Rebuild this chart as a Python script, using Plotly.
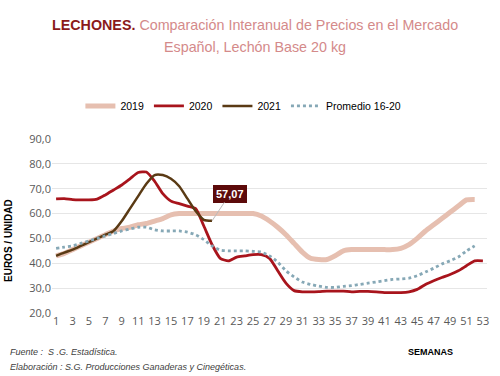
import plotly.graph_objects as go

weeks_2019 = list(range(1, 53))
vals_2019 = [43, 44, 45.5, 47, 48.5, 50, 51.5, 53, 54, 54.5, 55.5, 56, 57, 58, 59.5, 60,
             60, 60, 60, 60, 60, 60, 60, 60, 60, 59, 57, 54.5, 51.5, 48, 44.5, 42,
             41.5, 41.5, 43, 45, 45.5, 45.5, 45.5, 45.5, 45.5, 45.5, 46, 47.5, 50, 53,
             55.5, 58, 60.5, 63, 65.5, 65.7]

weeks_2020 = list(range(1, 54))
vals_2020 = [65.9, 66, 65.6, 65.5, 65.5, 65.8, 67.5, 69.5, 71.5, 74, 76.5, 76.7, 73, 68,
             65, 64, 63, 62, 55, 47.5, 42, 41, 42.5, 43, 43.5, 43.5, 42, 37, 32, 29,
             28.5, 28.5, 28.6, 28.8, 28.8, 28.8, 28.5, 28.7, 28.7, 28.5, 28.2, 28.2,
             28.2, 28.5, 29.5, 31.5, 33, 34.3, 35.5, 37, 39, 41, 41]

weeks_2021 = list(range(1, 21))
vals_2021 = [43, 44.3, 45.5, 47, 48.5, 50, 51.5, 53, 57, 62, 67, 72, 75.5, 75.5, 74, 71,
             66, 61, 57.5, 57.07]

weeks_prom = list(range(1, 53))
vals_prom = [46, 46.5, 47, 48, 49, 50, 51, 52, 53, 53.8, 54.5, 54.5, 53.5, 53, 53, 53,
             52.5, 51.5, 49.5, 47, 45.3, 45, 45, 45, 44.8, 44.5, 43, 40.5, 37, 34.5,
             32.5, 31.5, 30.8, 30.3, 30.3, 30.7, 31, 31.5, 32, 32.5, 33, 33.5, 33.7,
             34, 35, 36.5, 38, 39.7, 41, 42.5, 45, 47]

x_ticks = list(range(1, 54, 2))
y_ticks = [20, 30, 40, 50, 60, 70, 80, 90]
last_label = "57,07"

fig = go.Figure()
fig.add_trace(go.Scatter(x=weeks_2019, y=vals_2019, name="2019", mode="lines",
                         line=dict(color="#E6BFB0", width=5, shape="spline", smoothing=0.6)))
fig.add_trace(go.Scatter(x=weeks_2020, y=vals_2020, name="2020", mode="lines",
                         line=dict(color="#A8141C", width=2.8, shape="spline", smoothing=0.6)))
fig.add_trace(go.Scatter(x=weeks_2021, y=vals_2021, name="2021", mode="lines",
                         line=dict(color="#5A3A14", width=2.5, shape="spline", smoothing=0.6)))
fig.add_trace(go.Scatter(x=weeks_prom, y=vals_prom, name="Promedio 16-20", mode="lines",
                         line=dict(color="#86A8B6", width=2.8, dash="dot", shape="spline", smoothing=0.6)))

fig.update_layout(
    width=500, height=376,
    margin=dict(l=52, r=13, t=139, b=63),
    paper_bgcolor="white", plot_bgcolor="white",
    separators=",.",
    font=dict(family="Open Sans, Liberation Sans, sans-serif", color="#404040"),
    showlegend=True,
    legend=dict(orientation="h", x=0.44, xanchor="center", y=1.19, yanchor="middle",
                font=dict(size=10.5, color="#000000", family="Liberation Sans, Arial"),
                itemwidth=30, bgcolor="rgba(0,0,0,0)", tracegroupgap=0),
    xaxis=dict(range=[0.5, 53.5], tickmode="array", tickvals=x_ticks,
               ticktext=[str(t) for t in x_ticks], showgrid=False, zeroline=False,
               showline=False, ticks="", tickfont=dict(size=11, color="#595959")),
    yaxis=dict(range=[20, 90], tickmode="array", tickvals=y_ticks, tickformat=".1f",
               showgrid=True, gridcolor="#E6E6E6", gridwidth=1, zeroline=False,
               showline=False, ticks="", tickfont=dict(size=11, color="#595959")),
)

fig.add_annotation(x=20, y=57.07, xref="x", yref="y", text="<b>" + last_label + "</b>",
                   showarrow=True, arrowhead=0, arrowwidth=1, arrowcolor="#BBBBBB",
                   ax=18, ay=-27, bgcolor="#5C0A0A", bordercolor="#5C0A0A", borderpad=2,
                   font=dict(color="white", size=11, family="Liberation Sans, Arial"))

title_font = "Liberation Sans, Arial, sans-serif"
fig.add_annotation(xref="paper", yref="paper", x=(255 - 52) / 435, y=1 + (139 - 25) / 174,
                   xanchor="center", yanchor="middle", showarrow=False,
                   text="<span style='color:#8B1A1A'><b>LECHONES.</b></span> "
                        "<span style='color:#D48A8A'>Comparación Interanual de Precios en el Mercado</span>",
                   font=dict(size=14.3, family=title_font))
fig.add_annotation(xref="paper", yref="paper", x=(255 - 52) / 435, y=1 + (139 - 47) / 174,
                   xanchor="center", yanchor="middle", showarrow=False,
                   text="Español, Lechón Base 20 kg",
                   font=dict(size=14.3, family=title_font, color="#D48A8A"))

fig.add_annotation(xref="paper", yref="paper", x=(8 - 52) / 435, y=(313 - 241) / 174,
                   xanchor="center", yanchor="middle", showarrow=False, textangle=-90,
                   text="<b>EUROS / UNIDAD</b>",
                   font=dict(size=10, color="#000000", family="Liberation Sans, Arial"))
fig.add_annotation(xref="paper", yref="paper", x=(430 - 52) / 435, y=-(352 - 313) / 174,
                   xanchor="center", yanchor="middle", showarrow=False,
                   text="<b>SEMANAS</b>",
                   font=dict(size=9, color="#000000", family="Liberation Sans, Arial"))
fig.add_annotation(xref="paper", yref="paper", x=(8 - 52) / 435, y=-(352 - 313) / 174,
                   xanchor="left", yanchor="middle", showarrow=False,
                   text="<i>Fuente :  S .G. Estadística.</i>",
                   font=dict(size=9, color="#404040", family="Liberation Sans, Arial"))
fig.add_annotation(xref="paper", yref="paper", x=(8 - 52) / 435, y=-(367 - 313) / 174,
                   xanchor="left", yanchor="middle", showarrow=False,
                   text="<i>Elaboración : S.G. Producciones Ganaderas y Cinegéticas.</i>",
                   font=dict(size=9, color="#404040", family="Liberation Sans, Arial"))

fig.write_html("out.html", config={"displayModeBar": False},
               post_script="document.body.style.margin='0';")
